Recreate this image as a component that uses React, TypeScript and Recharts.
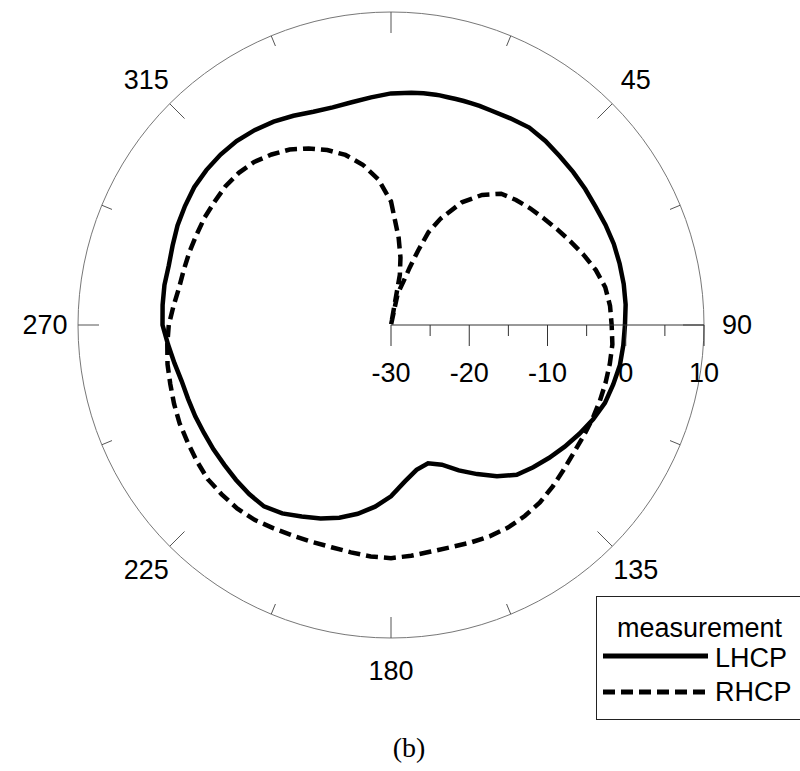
import React from "react";
import {
  RadarChart,
  Radar,
  PolarAngleAxis,
  PolarRadiusAxis,
  Legend,
} from "recharts";

// azimuth in degrees (0 = top, clockwise); extra samples around the RHCP null
const ANGLES = [
  0, 5, 8, 10, 11, 12, 14, 16, 18, 20, 22, 25,
  30, 35, 40, 45, 50, 55, 60, 65, 70, 75,
  80, 85, 90, 95, 100, 105, 110, 115, 120, 125,
  130, 135, 140, 145, 150, 155, 160, 165, 170, 175,
  180, 185, 190, 195, 200, 205, 210, 215, 220, 225,
  230, 235, 240, 245, 250, 255, 260, 265, 270, 275,
  280, 285, 290, 295, 300, 305, 310, 315, 320, 325,
  330, 335, 340, 345, 350, 355,
];

// measured gain, dB
const LHCP = [
  -0.4, -0.2, -0.1, -0.05, -0.03, 0.0, 0.0, 0.05, 0.1, 0.15, 0.2, 0.25,
  0.5, 0.8, 0.7, 0.5, 0.4, 0.3, 0.2, 0.25, 0.3, 0.25,
  0.2, 0.1, -0.1, -0.2, -0.3, -0.6, -0.9, -1.5, -2.2, -2.9,
  -3.6, -4.3, -5.0, -6.4, -8.0, -9.5, -11.0, -11.7, -11.2, -9.9,
  -8.1, -6.7, -5.5, -4.5, -3.7, -3.0, -2.2, -1.7, -1.8, -2.0,
  -2.2, -2.3, -2.4, -2.4, -2.4, -2.3, -1.9, -1.4, -0.8, -0.7,
  -0.6, -0.6, -0.3, 0.1, 0.4, 0.7, 0.8, 0.8, 0.7, 0.4,
  0.0, -0.5, -1.0, -1.2, -1.1, -0.8,
];

const RHCP = [
  -14.2, -18.8, -21.3, -23.5, -30, -26.2, -25.2, -24.2, -22.3, -19.9, -17.2, -15.0,
  -11.9, -9.7, -8.1, -7.4, -6.8, -6.2, -5.5, -4.7, -3.8, -2.9,
  -2.2, -1.9, -1.8, -1.6, -1.6, -1.6, -1.6, -1.6, -1.6, -1.5,
  -1.2, -0.8, -0.4, -0.2, -0.1, -0.2, -0.4, -0.6, -0.6, -0.4,
  -0.2, -0.3, -0.5, -0.6, -0.5, -0.3, 0.0, 0.4, 0.6, 0.6,
  0.6, 0.3, 0.0, -0.2, -0.5, -0.8, -1.0, -1.3, -1.6, -2.1,
  -2.5, -2.6, -2.6, -2.6, -2.5, -2.5, -2.4, -2.5, -2.8, -3.4,
  -4.1, -5.1, -6.2, -7.5, -9.2, -11.3,
];

const ANGLE_TICKS = [0, 22.5, 45, 67.5, 90, 112.5, 135, 157.5, 180, 202.5, 225, 247.5, 270, 292.5, 315, 337.5];
const RADIUS_TICKS = [-30, -25, -20, -15, -10, -5, 0, 5, 10];

const data = ANGLES.map((angle, i) => ({
  angle,
  LHCP: LHCP[i],
  RHCP: RHCP[i],
}));

const CX = 391;
const CY = 325;
const R = 313;
const FONT = "'Liberation Sans', Arial, sans-serif";

const AngleTick = (props: any) => {
  const deg = props.payload.value;
  const t = (deg * Math.PI) / 180;
  const sx = Math.sin(t);
  const sy = -Math.cos(t);
  const major = deg % 45 === 0;
  const len = major ? 21 : 11;
  // the 0 label sits above the top edge of the figure, so it is not shown
  const showLabel = major && deg !== 0;
  return (
    <g>
      <line
        x1={CX + R * sx}
        y1={CY + R * sy}
        x2={CX + (R - len) * sx}
        y2={CY + (R - len) * sy}
        stroke="#555"
        strokeWidth={1}
      />
      {showLabel && (
        <text
          x={CX + 346 * sx}
          y={CY + 346 * sy}
          textAnchor="middle"
          dominantBaseline="central"
          fontSize={27}
          fontFamily={FONT}
          fill="#000"
        >
          {deg}
        </text>
      )}
    </g>
  );
};

const RadiusTick = (props: any) => {
  const { x, y, payload } = props;
  const major = payload.value % 10 === 0;
  return (
    <g>
      <line x1={x} y1={y} x2={x} y2={y + (major ? 21 : 11)} stroke="#333" strokeWidth={1} />
      {major && (
        <text
          x={x}
          y={y + 48}
          textAnchor="middle"
          dominantBaseline="central"
          fontSize={27}
          fontFamily={FONT}
          fill="#000"
        >
          {payload.value}
        </text>
      )}
    </g>
  );
};

const renderLegend = () => (
  <div
    style={{
      position: "relative",
      width: 215,
      height: 124,
      border: "1px solid #222",
      background: "#fff",
      boxSizing: "border-box",
      fontFamily: FONT,
      fontSize: 27,
      color: "#000",
    }}
  >
    <div style={{ position: "absolute", left: 20, top: 15, lineHeight: "32px" }}>measurement</div>
    <svg style={{ position: "absolute", left: 0, top: 0 }} width={120} height={120}>
      <line x1={6} y1={59} x2={111} y2={59} stroke="#000" strokeWidth={5} />
      <line x1={6} y1={95} x2={111} y2={95} stroke="#000" strokeWidth={5} strokeDasharray="12 6" />
    </svg>
    <div style={{ position: "absolute", left: 118, top: 45, lineHeight: "32px" }}>LHCP</div>
    <div style={{ position: "absolute", left: 118, top: 79, lineHeight: "32px" }}>RHCP</div>
  </div>
);

export default function App() {
  return (
    <div
      style={{
        position: "absolute",
        left: 0,
        top: 0,
        width: 800,
        height: 771,
        overflow: "hidden",
        background: "#fff",
      }}
    >
      <RadarChart
        width={800}
        height={771}
        data={data}
        cx={CX}
        cy={CY}
        innerRadius={0}
        outerRadius={R}
        startAngle={90}
        endAngle={-270}
        margin={{ top: 0, right: 0, bottom: 0, left: 0 }}
      >
        <PolarAngleAxis
          dataKey="angle"
          type="number"
          domain={[0, 360]}
          ticks={ANGLE_TICKS}
          tick={<AngleTick />}
          tickLine={false}
          axisLineType="circle"
          axisLine={{ stroke: "#777", strokeWidth: 1 }}
        />
        <PolarRadiusAxis
          angle={0}
          type="number"
          domain={[-30, 10]}
          ticks={RADIUS_TICKS}
          tick={<RadiusTick />}
          axisLine={{ stroke: "#333", strokeWidth: 1 }}
        />
        <Radar
          name="LHCP"
          dataKey="LHCP"
          stroke="#000"
          strokeWidth={4.5}
          fill="none"
          fillOpacity={0}
          dot={false}
          isAnimationActive={false}
        />
        <Radar
          name="RHCP"
          dataKey="RHCP"
          stroke="#000"
          strokeWidth={4.5}
          strokeDasharray="12 6"
          fill="none"
          fillOpacity={0}
          dot={false}
          isAnimationActive={false}
        />
        <Legend
          layout="vertical"
          align="right"
          verticalAlign="bottom"
          content={renderLegend}
          wrapperStyle={{ left: 596, top: 596, right: "auto", bottom: "auto", width: 215 }}
        />
      </RadarChart>
      <div
        style={{
          position: "absolute",
          left: 0,
          top: 731,
          width: 818,
          textAlign: "center",
          fontFamily: "'Liberation Serif', 'Times New Roman', serif",
          fontSize: 28,
          lineHeight: "34px",
          color: "#000",
        }}
      >
        (b)
      </div>
    </div>
  );
}
